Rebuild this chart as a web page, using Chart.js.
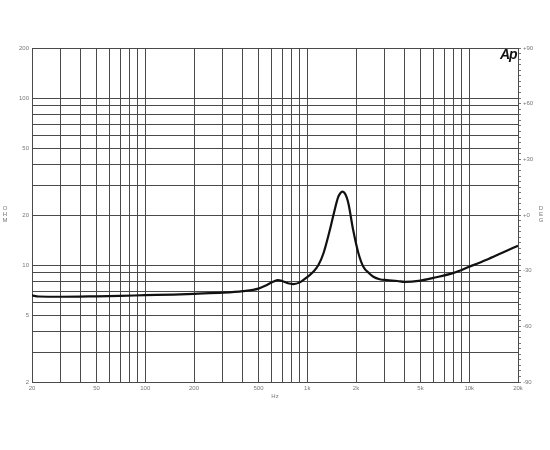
<!DOCTYPE html>
<html>
<head>
<meta charset="utf-8">
<script src="https://cdn.jsdelivr.net/npm/chart.js@4.4.0/dist/chart.umd.min.js"></script>
<style>
  html, body { margin: 0; padding: 0; background: #fff; }
  #wrap { position: relative; width: 550px; height: 450px; }
  .stack { position: absolute; font: 6px "Liberation Sans", Arial, sans-serif; color: #777; line-height: 6px; text-align: center; width: 8px; }
  #ap { position: absolute; left: 500px; top: 46px; font: italic bold 14px "Liberation Sans", Arial, sans-serif; color: #111; letter-spacing: -1px; }
</style>
</head>
<body>
<div id="wrap">
  <canvas id="impChart" width="550" height="450"></canvas>
  <div class="stack" style="left:1px; top:205px;">O<br>H<br>M</div>
  <div class="stack" style="left:537px; top:205px;">D<br>E<br>G</div>
  <div id="ap">Ap</div>
</div>
<script>
// frequency response (Hz) and impedance (ohm)
const freqHz = [20, 22, 30, 50, 70, 100, 150, 200, 300, 400, 500, 560, 620, 660, 700, 760, 820, 900, 1000, 1090, 1170, 1260, 1380, 1460, 1550, 1600, 1650, 1700, 1750, 1800, 1920, 2070, 2220, 2400, 2560, 2800, 3100, 3600, 4000, 5000, 6000, 8000, 10000, 12800, 16000, 20000];
const impedanceOhm = [6.6, 6.5, 6.48, 6.52, 6.56, 6.62, 6.68, 6.75, 6.85, 7.0, 7.25, 7.6, 8.0, 8.15, 8.05, 7.8, 7.72, 7.9, 8.5, 9.15, 10.0, 11.8, 16.3, 20.5, 25.5, 27.0, 27.6, 27.1, 25.6, 23.2, 16.3, 11.8, 9.8, 9.0, 8.54, 8.25, 8.15, 8.05, 7.95, 8.1, 8.4, 9.0, 9.8, 10.8, 11.9, 13.1];

// axis grid / tick labels
const freqGrid = [20, 30, 40, 50, 60, 70, 80, 90, 100, 200, 300, 400, 500, 600, 700, 800, 900, 1000, 2000, 3000, 4000, 5000, 6000, 7000, 8000, 9000, 10000, 20000];
const freqLabels = { 20: '20', 50: '50', 100: '100', 200: '200', 500: '500', 1000: '1k', 2000: '2k', 5000: '5k', 10000: '10k', 20000: '20k' };
const ohmGrid = [2, 3, 4, 5, 6, 7, 8, 9, 10, 20, 30, 40, 50, 60, 70, 80, 90, 100, 200];
const ohmLabels = [2, 5, 10, 20, 50, 100, 200];
const phaseLabels = { 90: '+90', 60: '+60', 30: '+30', 0: '+0', '-30': '-30', '-60': '-60', '-90': '-90' };

const tickFont = { family: '"Liberation Sans", Arial, sans-serif', size: 6 };
const gridColor = '#4a4a4a';

var ctx = document.getElementById('impChart').getContext('2d');
var impChart = new Chart(ctx, {
    type: 'line',
    data: {
        datasets: [{
            data: freqHz.map((f, i) => ({ x: f, y: impedanceOhm[i] })),
            borderColor: '#111',
            borderWidth: 2.2,
            pointRadius: 0,
            cubicInterpolationMode: 'monotone',
            fill: false,
            yAxisID: 'y'
        }]
    },
    options: {
        responsive: false,
        animation: false,
        layout: { padding: { top: 48, bottom: 48, left: 0, right: 0 } },
        plugins: { legend: { display: false }, tooltip: { enabled: false } },
        scales: {
            x: {
                type: 'logarithmic',
                min: 20,
                max: 20000,
                afterBuildTicks: (scale) => { scale.ticks = freqGrid.map(v => ({ value: v })); },
                afterFit: (scale) => { scale.height = 20; },
                grid: { color: gridColor, lineWidth: 1, drawTicks: false },
                border: { color: gridColor },
                ticks: {
                    autoSkip: false,
                    maxRotation: 0,
                    padding: 3,
                    color: '#777',
                    font: tickFont,
                    callback: (v) => freqLabels[v] || ''
                },
                title: { display: true, text: 'Hz', color: '#777', font: tickFont, padding: { top: 2, bottom: 2 } }
            },
            y: {
                type: 'logarithmic',
                position: 'left',
                min: 2,
                max: 200,
                afterBuildTicks: (scale) => { scale.ticks = ohmGrid.map(v => ({ value: v })); },
                afterFit: (scale) => { scale.width = 32; },
                grid: { color: gridColor, lineWidth: 1, drawTicks: false },
                border: { color: gridColor },
                ticks: {
                    autoSkip: false,
                    padding: 3,
                    color: '#777',
                    font: tickFont,
                    callback: (v) => ohmLabels.includes(v) ? String(v) : ''
                }
            },
            phase: {
                type: 'linear',
                position: 'right',
                min: -90,
                max: 90,
                afterFit: (scale) => { scale.width = 32; },
                grid: { drawOnChartArea: false, color: '#777', tickLength: 3 },
                border: { color: gridColor },
                ticks: {
                    stepSize: 3,
                    maxTicksLimit: 100,
                    autoSkip: false,
                    padding: 2,
                    color: '#777',
                    font: tickFont,
                    callback: (v) => phaseLabels[v] || ''
                }
            }
        }
    }
});
</script>
</body>
</html>
